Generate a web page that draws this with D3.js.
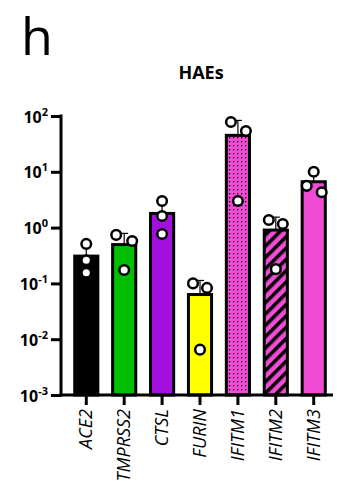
<!DOCTYPE html>
<html>
<head>
<meta charset="utf-8">
<script src="https://cdn.jsdelivr.net/npm/d3@7"></script>
<style>
body{margin:0;background:#fff}
svg text{font-family:"Open Sans",Lato,sans-serif}
</style>
</head>
<body>
<svg id="chart" width="337" height="489"></svg>
<script>
var genes = ['ACE2','TMPRSS2','CTSL','FURIN','IFITM1','IFITM2','IFITM3']
var fills = ['#000000','#00bf00','#a40fe0','#ffff00','#f24cd6','#f24cd6','#f24cd6']
var patterns = ['','','','','dots','stripes','']
// three replicates per gene
var reps = [
 [0.51,0.26,0.155],
 [0.74,0.575,0.174],
 [3.0,1.61,0.77],
 [0.10,0.083,0.0065],
 [78,54,3.0],
 [1.37,1.16,0.18],
 [10,5.6,4.3]
]
var jitter = [[0,0,0],[-8,8,0],[0,0,0],[-7,7,0],[-7,8,0],[-7,7,0],[0,-7,8]]
var yTicks = [1e2,1e1,1e0,1e-1,1e-2,1e-3]
var tickExp = ['2','1','0','-1','-2','-3']

var svg = d3.select('#chart')
var defs = svg.append('defs')

var dots = defs.append('pattern').attr('id','dots').attr('patternUnits','userSpaceOnUse')
  .attr('width',4).attr('height',4)
dots.append('rect').attr('width',4).attr('height',4).attr('fill','#f24cd6')
dots.append('rect').attr('x',1).attr('y',1).attr('width',1.3).attr('height',1.3).attr('fill','#000')

var stripes = defs.append('pattern').attr('id','stripes').attr('patternUnits','userSpaceOnUse')
  .attr('width',8).attr('height',8).attr('patternTransform','rotate(-45)')
stripes.append('rect').attr('width',8).attr('height',8).attr('fill','#f24cd6')
stripes.append('rect').attr('width',8).attr('height',3.5).attr('fill','#000')

var x = d3.scaleBand().domain(genes).range([66,334]).paddingInner(0.39).paddingOuter(0.23)
var y = d3.scaleLog().domain([1e-3,1e2]).range([395,116])

svg.append('text').attr('x',21).attr('y',55).attr('font-size',52)
  .attr('font-family','Lato,sans-serif').text('h')
svg.append('text').attr('x',201).attr('y',79).attr('text-anchor','middle')
  .attr('font-size',18).attr('font-weight','bold').text('HAEs')

var stats = reps.map(function(r){ return {mean:d3.mean(r), sd:d3.deviation(r)} })

var g = svg.append('g')
genes.forEach(function(name,i){
  var cx = x(name)+x.bandwidth()/2
  var top = y(stats[i].mean)
  // error bar (upward)
  var ytop = y(stats[i].mean+stats[i].sd)
  g.append('line').attr('x1',cx).attr('x2',cx).attr('y1',top).attr('y2',ytop)
    .attr('stroke','#000').attr('stroke-width',1.2)
  g.append('line').attr('x1',cx-4).attr('x2',cx+4).attr('y1',ytop).attr('y2',ytop)
    .attr('stroke','#000').attr('stroke-width',1.2)
  g.append('rect').attr('x',x(name)).attr('y',top)
    .attr('width',x.bandwidth()).attr('height',395-top)
    .attr('fill',patterns[i] ? 'url(#'+patterns[i]+')' : fills[i])
    .attr('stroke','#000').attr('stroke-width',3)
})
genes.forEach(function(name,i){
  var cx = x(name)+x.bandwidth()/2
  g.selectAll(null).data(reps[i]).enter().append('circle')
    .attr('cx',function(d,k){ return cx+jitter[i][k] })
    .attr('cy',function(d){ return y(d) })
    .attr('r',4.8).attr('fill','#fff').attr('stroke','#000').attr('stroke-width',2.5)
})

// y axis
var ya = svg.append('g').attr('transform','translate(61,0)')
  .call(d3.axisLeft(y).tickValues(yTicks).tickSize(10).tickFormat(''))
ya.select('.domain').attr('stroke-width',3).attr('d','M0,'+(y(1e2)-1.5)+'V396.5')
ya.selectAll('.tick line').attr('stroke-width',3)
ya.selectAll('.tick').each(function(d,i){
  var t = d3.select(this).append('text').attr('x',-13).attr('y',6)
    .attr('text-anchor','end').attr('fill','#000').attr('font-weight','bold')
    .attr('font-size',16)
  t.append('tspan').text('10')
  t.append('tspan').attr('dy',-7).attr('font-size',11).text(tickExp[i])
})

// x axis
var xa = svg.append('g').attr('transform','translate(0,395)')
  .call(d3.axisBottom(x).tickSize(10).tickSizeOuter(0))
xa.select('.domain').attr('stroke-width',3).attr('d','M59.5,0H333')
xa.selectAll('.tick line').attr('stroke-width',3)
xa.selectAll('.tick text').attr('transform','rotate(-90)')
  .attr('x',-14).attr('y',6).attr('dy',0).attr('text-anchor','end')
  .attr('font-size',18).attr('font-style','italic').attr('fill','#000')
  .attr('font-family','"Open Sans",Lato,sans-serif')
</script>
</body>
</html>
